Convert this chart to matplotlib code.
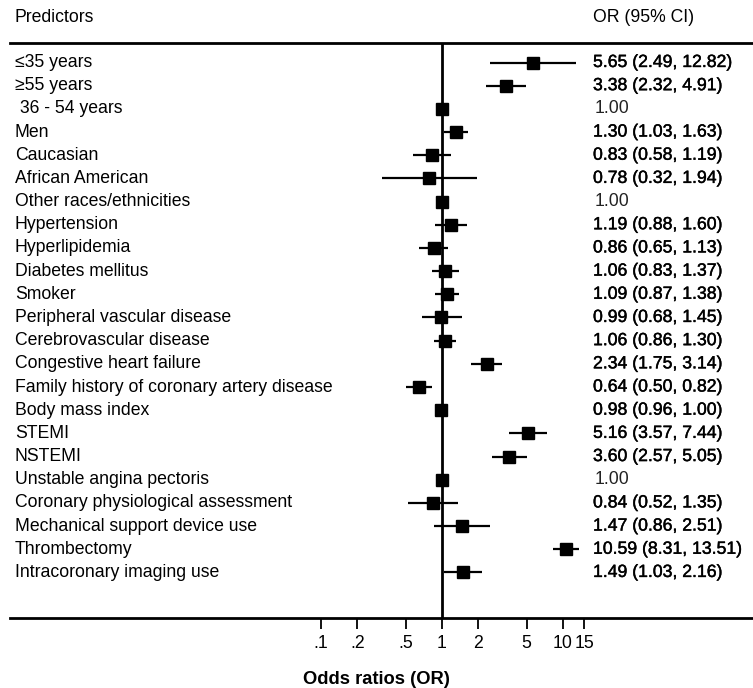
import numpy as np
import matplotlib
matplotlib.use("Agg")
import matplotlib.pyplot as plt
import matplotlib.patheffects as pe
from matplotlib.transforms import blended_transform_factory

predictors = ["≤35 years", "≥55 years", " 36 - 54 years", "Men", "Caucasian",
              "African American", "Other races/ethnicities", "Hypertension",
              "Hyperlipidemia", "Diabetes mellitus", "Smoker",
              "Peripheral vascular disease", "Cerebrovascular disease",
              "Congestive heart failure", "Family history of coronary artery disease",
              "Body mass index", "STEMI", "NSTEMI", "Unstable angina pectoris",
              "Coronary physiological assessment", "Mechanical support device use",
              "Thrombectomy", "Intracoronary imaging use"]
odds = [5.65, 3.38, 1.00, 1.30, 0.83, 0.78, 1.00, 1.19, 0.86, 1.06, 1.09, 0.99,
        1.06, 2.34, 0.64, 0.98, 5.16, 3.60, 1.00, 0.84, 1.47, 10.59, 1.49]
ci_low = [2.49, 2.32, np.nan, 1.03, 0.58, 0.32, np.nan, 0.88, 0.65, 0.83, 0.87, 0.68,
          0.86, 1.75, 0.50, 0.96, 3.57, 2.57, np.nan, 0.52, 0.86, 8.31, 1.03]
ci_high = [12.82, 4.91, np.nan, 1.63, 1.19, 1.94, np.nan, 1.60, 1.13, 1.37, 1.38, 1.45,
           1.30, 3.14, 0.82, 1.00, 7.44, 5.05, np.nan, 1.35, 2.51, 13.51, 2.16]
x_ticks = [0.1, 0.2, 0.5, 1, 2, 5, 10, 15]
x_tick_labels = [".1", ".2", ".5", "1", "2", "5", "10", "15"]

plt.rcParams['font.family'] = ['Liberation Sans', 'DejaVu Sans']

W, H = 753, 688
fig = plt.figure(figsize=(W / 100, H / 100), dpi=100)
top_px, bot_px = 43, 618
ax = fig.add_axes([0, 1 - bot_px / H, 1, (bot_px - top_px) / H])

row0, step = 62.5, 23.18
n = len(predictors)
y = np.arange(n)
ylo, yhi = (bot_px - row0) / step, (top_px - row0) / step
ax.set_ylim(ylo, yhi)
one_px, dec_px = 442, 121
ax.set_xscale('log')
ax.set_xlim(10 ** ((0 - one_px) / dec_px), 10 ** ((W - one_px) / dec_px))

odds_a = np.array(odds); lo = np.array(ci_low); hi = np.array(ci_high)
for i in range(n):
    if not np.isnan(lo[i]):
        ax.plot([lo[i], hi[i]], [y[i], y[i]], color='black', lw=1.6, solid_capstyle='butt', zorder=2)
ax.plot(odds_a, y, 's', color='black', markersize=8.5, zorder=3)
ax.axvline(1, color='black', lw=2, zorder=1)

for s in ['left', 'right', 'top', 'bottom']:
    ax.spines[s].set_visible(False)
ax.axhline(ylo, xmin=10 / W, xmax=1, color='black', lw=2, clip_on=False)
ax.axhline(yhi, xmin=10 / W, xmax=1, color='black', lw=2, clip_on=False)
ax.set_yticks([])
ax.set_xticks(x_ticks)
ax.set_xticklabels(x_tick_labels, fontsize=12.7)
ax.minorticks_off()
ax.tick_params(axis='x', direction='out', length=8, width=1.3, pad=4)
ax.set_xlabel("Odds ratios (OR)", fontsize=13.2, fontweight='bold', labelpad=14)

tr = blended_transform_factory(ax.transAxes, ax.transData)
fs = 12.7
medium = [pe.withStroke(linewidth=0.3, foreground='black')]
for i in range(n):
    ax.text(15 / W, y[i], predictors[i], transform=tr, ha='left', va='center', fontsize=fs)
    if np.isnan(lo[i]):
        ax.text(595 / W, y[i], f"{odds[i]:.2f}", transform=tr, ha='left', va='center',
                fontsize=fs, color='#222222')
    else:
        ax.text(593 / W, y[i], f"{odds[i]:.2f} ({ci_low[i]:.2f}, {ci_high[i]:.2f})",
                transform=tr, ha='left', va='center', fontsize=fs, path_effects=medium)

fig.text(15 / W, 1 - 17 / H, "Predictors", ha='left', va='center', fontsize=fs)
fig.text(593 / W, 1 - 17 / H, "OR (95% CI)", ha='left', va='center', fontsize=fs)

fig.savefig("out.png", dpi=100)
